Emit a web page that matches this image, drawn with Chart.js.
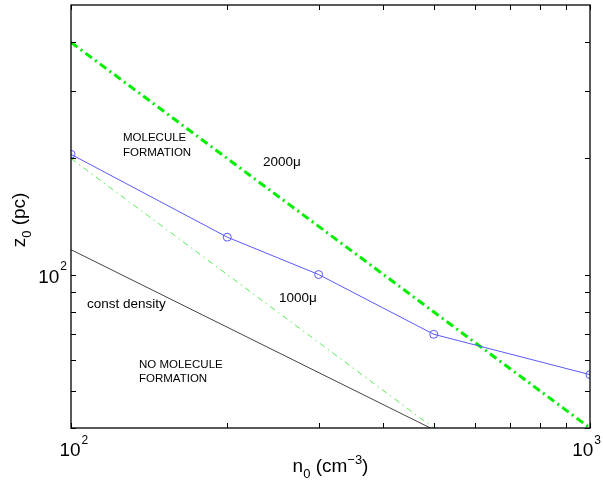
<!DOCTYPE html>
<html>
<head>
<meta charset="utf-8">
<script src="https://cdn.jsdelivr.net/npm/chart.js@4.4.0/dist/chart.umd.min.js"></script>
<style>
  body { margin: 0; background: #fff; }
  #c { display: block; }
</style>
</head>
<body>
<canvas id="c" width="603" height="483"></canvas>
<script>
// densities (cm^-3) and z0 (pc)
const nModel = [100, 200, 300, 500, 1000];
const zModel = [205, 125, 100, 70, 55];

const n2000 = [100, 1000];
const z2000 = [400, 40];

const n1000 = [100, 500];
const z1000 = [200, 40];

const nConst = [100, 500];
const zConst = [116, 39.6];

const xTicksMajor = [100, 1000];
const xTicksMinor = [200, 300, 400, 500, 600, 700, 800, 900];
const yTicksMajor = [100];
const yTicksMinor = [40, 50, 60, 70, 80, 90, 200, 300, 400];

const FONT = "'Liberation Sans', Arial, Helvetica, sans-serif";

function pts(xs, ys) {
  return xs.map((x, i) => ({ x: x, y: ys[i] }));
}

// draws text made of pieces with sub/superscripts
function richText(ctx, parts, x, y, align) {
  let w = 0;
  parts.forEach(p => {
    ctx.font = p.size + "px " + FONT;
    p.w = ctx.measureText(p.t).width;
    w += p.w;
  });
  let cx = x;
  if (align === "center") cx = x - w / 2;
  if (align === "right") cx = x - w;
  parts.forEach(p => {
    ctx.font = p.size + "px " + FONT;
    ctx.fillText(p.t, cx, y + (p.dy || 0));
    cx += p.w;
  });
}

const axesPlugin = {
  id: "axesPlugin",
  afterDraw(chart) {
    const ctx = chart.ctx;
    const a = chart.chartArea;
    const xs = chart.scales.x;
    const ys = chart.scales.y;
    ctx.save();
    ctx.strokeStyle = "#000";
    ctx.lineWidth = 1.3;
    ctx.strokeRect(a.left, a.top, a.right - a.left, a.bottom - a.top);

    const tl = 5;
    ctx.lineWidth = 1;
    ctx.beginPath();
    xTicksMajor.concat(xTicksMinor).forEach(v => {
      const px = Math.round(xs.getPixelForValue(v)) + 0.5;
      ctx.moveTo(px, a.bottom); ctx.lineTo(px, a.bottom - tl);
      ctx.moveTo(px, a.top); ctx.lineTo(px, a.top + tl);
    });
    yTicksMajor.concat(yTicksMinor).forEach(v => {
      const py = Math.round(ys.getPixelForValue(v)) + 0.5;
      ctx.moveTo(a.left, py); ctx.lineTo(a.left + tl, py);
      ctx.moveTo(a.right, py); ctx.lineTo(a.right - tl, py);
    });
    ctx.stroke();

    ctx.fillStyle = "#000";
    ctx.textBaseline = "alphabetic";
    ctx.textAlign = "left";
    // x tick labels (kept inside the figure)
    xTicksMajor.forEach(v => {
      const px = xs.getPixelForValue(v);
      const exp = String(Math.round(Math.log10(v)));
      ctx.font = "19px " + FONT;
      const w10 = ctx.measureText("10").width;
      ctx.font = "12px " + FONT;
      const we = ctx.measureText(exp).width;
      let x0 = px - w10 / 2 - 1;
      const maxRight = chart.width - 2;
      if (x0 + w10 + 1 + we > maxRight) x0 = maxRight - w10 - 1 - we;
      ctx.font = "19px " + FONT;
      ctx.fillText("10", x0, a.bottom + 28);
      ctx.font = "12px " + FONT;
      ctx.fillText(exp, x0 + w10 + 1, a.bottom + 16);
    });
    // y tick labels
    yTicksMajor.forEach(v => {
      const py = ys.getPixelForValue(v);
      const exp = String(Math.round(Math.log10(v)));
      ctx.font = "12px " + FONT;
      const we = ctx.measureText(exp).width;
      ctx.fillText(exp, a.left - 4 - we, py - 5);
      ctx.font = "19px " + FONT;
      const w10 = ctx.measureText("10").width;
      ctx.fillText("10", a.left - 5 - we - w10, py + 8);
    });

    // axis titles
    richText(ctx, [
      { t: "n", size: 19 },
      { t: "0", size: 13, dy: 6 },
      { t: " (cm", size: 19 },
      { t: "\u22123", size: 13, dy: -8 },
      { t: ")", size: 19 }
    ], (a.left + a.right) / 2, 472, "center");

    ctx.save();
    ctx.translate(25, 220);
    ctx.rotate(-Math.PI / 2);
    richText(ctx, [
      { t: "z", size: 19 },
      { t: "0", size: 13, dy: 6 },
      { t: " (pc)", size: 19 }
    ], 0, 0, "center");
    ctx.restore();

    // annotations
    ctx.textBaseline = "middle";
    ctx.font = "11.5px " + FONT;
    ctx.fillText("MOLECULE", 123, 138);
    ctx.fillText("FORMATION", 123, 153);
    ctx.fillText("NO MOLECULE", 139, 365);
    ctx.fillText("FORMATION", 139, 379);
    ctx.font = "13.5px " + FONT;
    ctx.fillText("2000\u03bc", 263, 162);
    ctx.fillText("1000\u03bc", 279, 298);
    ctx.fillText("const density", 87, 304);
    ctx.restore();
  }
};

new Chart(document.getElementById("c"), {
  type: "scatter",
  data: {
    datasets: [
      {
        label: "model",
        data: pts(nModel, zModel),
        showLine: true,
        borderColor: "#5a5aff",
        borderWidth: 1,
        pointStyle: "circle",
        pointRadius: 4,
        pointBorderColor: "#5a5aff",
        pointBackgroundColor: "rgba(0,0,0,0)",
        pointBorderWidth: 1
      },
      {
        label: "2000mu",
        data: pts(n2000, z2000),
        showLine: true,
        borderColor: "#00ee00",
        borderWidth: 3,
        borderDash: [8, 4, 2, 4],
        pointRadius: 0
      },
      {
        label: "1000mu",
        data: pts(n1000, z1000),
        showLine: true,
        borderColor: "#55ee55",
        borderWidth: 1,
        borderDash: [6, 4, 1.5, 4],
        pointRadius: 0
      },
      {
        label: "const density",
        data: pts(nConst, zConst),
        showLine: true,
        borderColor: "#444",
        borderWidth: 1,
        pointRadius: 0
      }
    ]
  },
  options: {
    responsive: false,
    animation: false,
    layout: { padding: { left: 71, right: 13, top: 5, bottom: 55 } },
    plugins: { legend: { display: false }, tooltip: { enabled: false } },
    scales: {
      x: { type: "logarithmic", min: 100, max: 1000, display: false },
      y: { type: "logarithmic", min: 40, max: 500, display: false }
    }
  },
  plugins: [axesPlugin]
});
</script>
</body>
</html>
